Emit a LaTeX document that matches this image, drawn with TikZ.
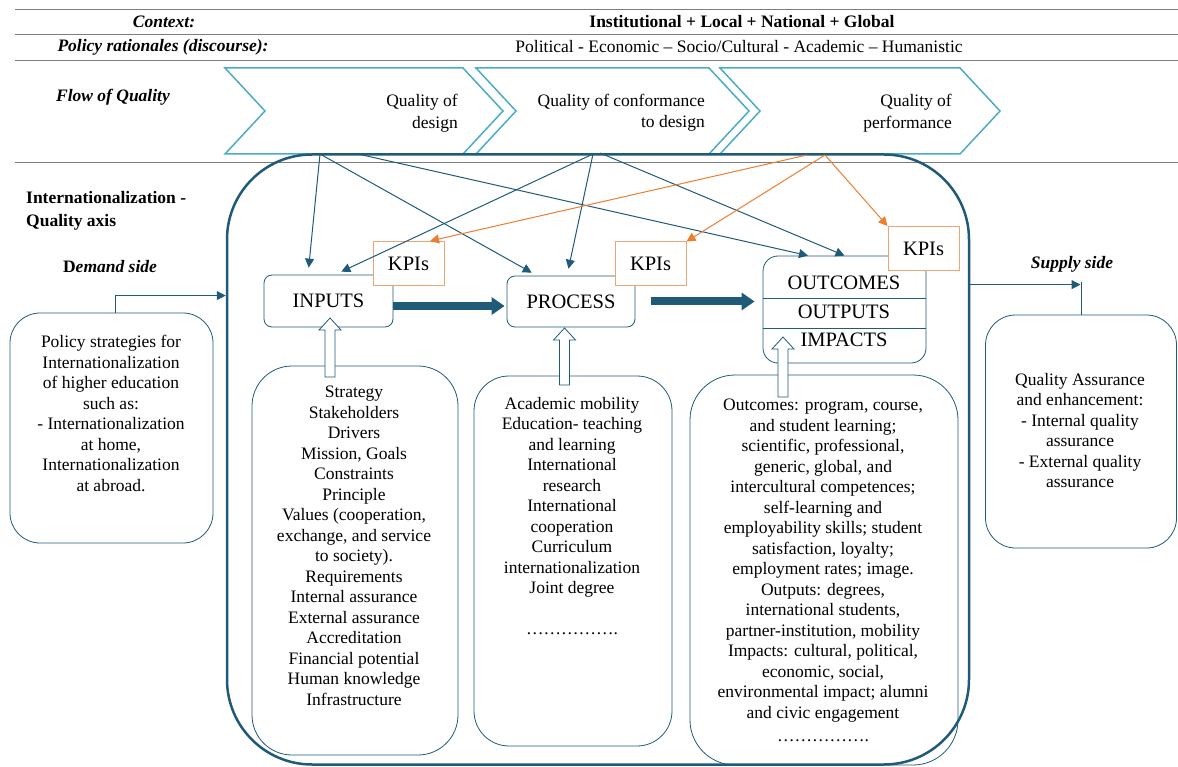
\documentclass[tikz,border=0pt]{standalone}
\usepackage{fontspec}
\setmainfont{Liberation Serif}
\usepackage{tikz}
\usetikzlibrary{arrows.meta}
\usetikzlibrary{calc}

\definecolor{axisblue}{RGB}{31,90,120}
\definecolor{chevblue}{RGB}{75,172,198}
\definecolor{kpiorange}{RGB}{237,125,49}
\definecolor{kpiedge}{RGB}{238,165,118}
\definecolor{rulegrey}{RGB}{125,125,125}

\tikzset{
	txt/.style={font=\fontsize{17.5}{20.5}\selectfont, inner sep=0pt, align=center},
	labelfont/.style={font=\fontsize{20.5}{24}\selectfont},
	mainbox/.style={draw=axisblue, fill=white, rounded corners=8pt, line width=0.8pt, labelfont},
	kpi/.style={draw=kpiedge, fill=white, line width=1pt, minimum width=71pt, minimum height=44pt, labelfont},
	detail/.style={draw=axisblue, line width=0.8pt},
	chev/.style={draw=chevblue, line width=1.5pt},
	flowarr/.style={draw=axisblue, line width=1pt, -{Triangle[length=9pt,width=9pt]}},
	kpiarr/.style={draw=kpiorange, line width=1pt, -{Triangle[length=9pt,width=9pt]}},
	bigarr/.style={draw=axisblue, line width=8pt, -{Triangle[length=13pt,width=17pt]}},
	blockarr/.style={draw=axisblue, fill=white, line width=0.8pt}
}

\newcommand{\hollowarrow}[2]{%
	\draw[blockarr] let \p1=(#1), \p2=(#2) in
		(\x1-5pt,\y1) -- (\x1-5pt,\y2-12pt) -- (\x1-11pt,\y2-12pt) -- (\x2,\y2)
		-- (\x1+11pt,\y2-12pt) -- (\x1+5pt,\y2-12pt) -- (\x1+5pt,\y1) -- cycle;}

\begin{document}
\begin{tikzpicture}[x=1pt,y=-1pt]
	\useasboundingbox (0,0) rectangle (1178,767);
	\foreach \yy in {10,35,61,163}
		\draw[rulegrey, line width=1pt] (15,\yy) -- (1178,\yy);

	\node[txt] (ctx) at (164,22) {\textbf{\textit{Context:}}};
	\node[txt] (ctxv) at (742,22) {\textbf{Institutional + Local + National + Global}};
	\node[txt] (rat) at (163,47) {\textbf{\textit{Policy rationales (discourse):}}};
	\node[txt] (ratv) at (739,47) {Political - Economic – Socio/Cultural - Academic – Humanistic};
	\node[txt] (flow) at (113,97) {\textbf{\textit{Flow of Quality}}};

	\foreach \xa/\xb in {225/463,476/709,720/960} {
		\pgfmathtruncatemacro{\xn}{\xa+40}
		\pgfmathtruncatemacro{\xt}{\xb+40}
		\draw[chev] (\xa,68) -- (\xb,68) -- (\xt,111) -- (\xb,154) -- (\xa,154) -- (\xn,111) -- cycle;
	}
	\node[txt, anchor=east, align=right] (qdes) at (458,113) {Quality of\\[2pt]design};
	\node[txt, anchor=east, align=right] (qconf) at (705,112.5) {Quality of conformance\\to design};
	\node[txt, anchor=east, align=right] (qperf) at (952,113) {Quality of\\[2pt]performance};

	\node[draw=axisblue, line width=2.5pt, rounded corners=85pt, minimum width=742pt, minimum height=610pt, inner sep=0pt] (axis) at (598,459.5) {};

	\node[txt, anchor=west, align=left] (iqa) at (26,211) {\textbf{Internationalization -}\\[2pt]\textbf{Quality axis}};
	\node[txt] (dem) at (110,267) {\textbf{D\textit{emand side}}};
	\node[txt] (sup) at (1072,264) {\textbf{\textit{Supply side}}};

	\node[detail, rounded corners=30pt, minimum width=203pt, minimum height=230pt] (pol) at (111.5,428) {};
	\node[txt, anchor=north] (polt) at (111,335) {Policy strategies for\\Internationalization\\of higher education\\such as:\\- Internationalization\\at home,\\Internationalization\\at abroad.};
	\node[detail, rounded corners=30pt, minimum width=191pt, minimum height=233pt] (qa) at (1081,431.5) {};
	\node[txt, anchor=north] (qat) at (1080,373) {Quality Assurance\\and enhancement:\\- Internal quality\\assurance\\- External quality\\assurance};

	\node[detail, rounded corners=40pt, minimum width=206pt, minimum height=389pt] (sIn) at (355,560.5) {};
	\node[txt, anchor=north] (sInT) at (354,386) {Strategy\\Stakeholders\\Drivers\\Mission, Goals\\Constraints\\Principle\\Values (cooperation,\\exchange, and service\\to society).\\Requirements\\Internal assurance\\External assurance\\Accreditation\\Financial potential\\Human knowledge\\Infrastructure};
	\node[detail, rounded corners=35pt, minimum width=198pt, minimum height=370pt] (sPr) at (573,561) {};
	\node[txt, anchor=north] (sPrT) at (572,397) {Academic mobility\\Education- teaching\\and learning\\International\\research\\International\\cooperation\\Curriculum\\internationalization\\Joint degree\\[20.5pt]…………….};
	\node[detail, rounded corners=45pt, minimum width=268pt, minimum height=390pt] (sOu) at (824,570) {};
	\node[txt, anchor=north] (sOuT) at (823,399) {Outcomes: program, course,\\and student learning;\\scientific, professional,\\generic, global, and\\intercultural competences;\\self-learning and\\employability skills; student\\satisfaction, loyalty;\\employment rates; image.\\Outputs: degrees,\\international students,\\partner-institution, mobility\\Impacts: cultural, political,\\economic, social,\\environmental impact; alumni\\and civic engagement\\[3pt]…………….};

	\node[mainbox, minimum width=129pt, minimum height=52pt] (inp) at (328.5,301) {INPUTS};
	\node[mainbox, minimum width=128pt, minimum height=51pt] (proc) at (571,301.5) {PROCESS};
	\node[mainbox, rounded corners=15pt, minimum width=163pt, minimum height=107pt] (ooi) at (844.5,309.5) {};
	\draw[axisblue, line width=0.8pt] (ooi.west |- 0,298) -- (ooi.east |- 0,298);
	\draw[axisblue, line width=0.8pt] (ooi.west |- 0,328) -- (ooi.east |- 0,328);

	\coordinate (inB) at (330,377);
	\coordinate (inT) at (330,318);
	\coordinate (prB) at (564.5,385);
	\coordinate (prT) at (564.5,328);
	\coordinate (ouB) at (783,397);
	\coordinate (ouT) at (783,337);
	\hollowarrow{inB}{inT}
	\hollowarrow{prB}{prT}
	\hollowarrow{ouB}{ouT}

	\node[labelfont] (oc) at (844,283) {OUTCOMES};
	\node[labelfont] (op) at (844,312) {OUTPUTS};
	\node[labelfont] (oi) at (844,340) {IMPACTS};

	\node[kpi] (k1) at (408.5,263.5) {KPIs};
	\node[kpi] (k2) at (650.5,264) {KPIs};
	\node[kpi] (k3) at (923.5,248.5) {KPIs};

	\coordinate (des1) at (320,154);
	\coordinate (des2) at (358,154);
	\coordinate (conf1) at (593,154);
	\coordinate (conf2) at (600,153);
	\coordinate (perf1) at (807,155);
	\coordinate (perf2) at (825,155);
	\draw[flowarr, shorten >=7pt] (des1) -- ([xshift=-20.5pt]inp.north);
	\draw[flowarr, shorten >=6pt] (des1) -- ([xshift=-34pt]proc.north);
	\draw[flowarr] (des2) -- ([xshift=-36.5pt]ooi.north);
	\draw[flowarr, shorten >=7pt] (conf1) -- ([xshift=6.5pt]inp.north);
	\draw[flowarr, shorten >=7pt] (conf1) -- ([xshift=-4pt]proc.north);
	\draw[flowarr] (conf2) -- (ooi.north);
	\draw[kpiarr] (perf1) -- ([xshift=21.5pt]k1.north);
	\draw[kpiarr] (perf2) -- (k2.north east);
	\draw[kpiarr] (perf2) -- (k3.north west);

	\draw[bigarr, shorten >=2pt] ([yshift=-5pt]inp.east) -- ([yshift=-4.5pt]proc.west);
	\draw[bigarr, shorten <=16pt, shorten >=8pt] (proc.east) -- (ooi.west |- proc.east);

	\coordinate (demc) at ([shift={(3.5pt,17pt)}]pol.north);
	\draw[flowarr] (demc |- pol.north) -- (demc) -- (demc -| axis.west);
	\coordinate (supc) at ([yshift=30pt]qa.north);
	\draw[axisblue, line width=1pt] (qa.north) -- ([yshift=3pt]supc);
	\draw[flowarr, shorten >=0.5pt] (axis.east |- supc) -- (supc);
\end{tikzpicture}
\end{document}
